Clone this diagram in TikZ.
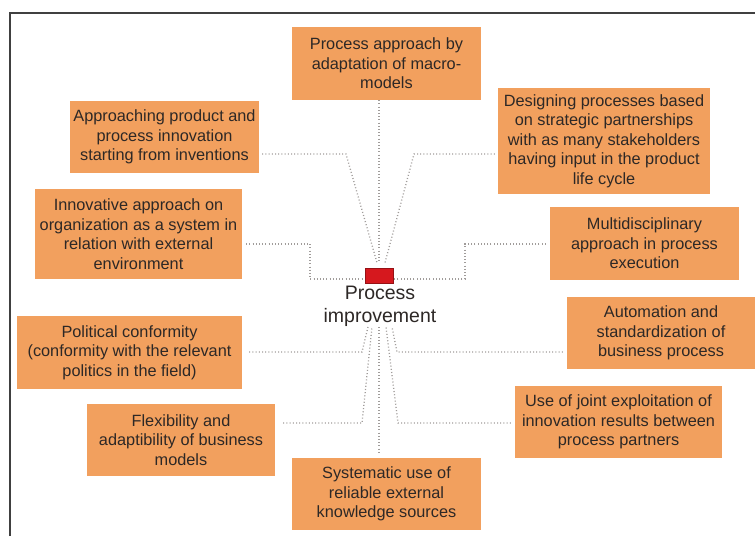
\documentclass[tikz,border=0pt]{standalone}
\usepackage{fontspec}
\setmainfont{Liberation Sans}
\definecolor{boxfill}{RGB}{242,160,94}
\definecolor{txt}{RGB}{45,40,38}
\definecolor{dotc}{RGB}{160,156,154}
\definecolor{hubred}{RGB}{214,24,30}
\begin{document}
\begin{tikzpicture}[x=1pt,y=-1pt,
  obox/.style={fill=boxfill,draw=none,inner sep=0pt,align=center,text=txt,
    font=\fontsize{16.3}{19.5}\selectfont},
  conn/.style={draw=dotc,line width=1.3pt,dash pattern=on 1pt off 2.2pt},
  frame/.style={draw=black!75,line width=1.3pt}]
\useasboundingbox (0,0) rectangle (755,536);
\fill[white] (0,0) rectangle (755,536);
\draw[frame] (10,536) -- (10,13) -- (760,13);

% boxes
\node[obox,minimum width=189pt,minimum height=73pt] (b1) at (386.5,63.5)
  {Process approach by\\adaptation of macro-\\models};
\node[obox,minimum width=189pt,minimum height=72pt] (b2) at (164.5,137)
  {Approaching product and\\process innovation\\starting from inventions};
\node[obox,minimum width=212pt,minimum height=106pt] (b3) at (604,141)
  {Designing processes based\\on strategic partnerships\\with as many stakeholders\\having input in the product\\life cycle};
\node[obox,minimum width=207pt,minimum height=90pt] (b4) at (138.5,234)
  {Innovative approach on\\organization as a system in\\relation with external\\environment};
\node[obox,minimum width=189pt,minimum height=73pt] (b5) at (644.5,243.5)
  {Multidisciplinary\\approach in process\\execution};
\node[obox,minimum width=196pt,minimum height=72pt] (b6) at (665,333)
  {\hspace*{-8pt}Automation and\\\hspace*{-8pt}standardization of\\\hspace*{-8pt}business process};
\node[obox,minimum width=225pt,minimum height=73pt] (b7) at (129.5,352.5)
  {Political conformity\\(conformity with the relevant\\politics in the field)};
\node[obox,minimum width=188pt,minimum height=72pt] (b8) at (181,440)
  {Flexibility and\\adaptibility of business\\models};
\node[obox,minimum width=207pt,minimum height=72pt] (b9) at (618.5,422)
  {Use of joint exploitation of\\innovation results between\\process partners};
\node[obox,minimum width=189pt,minimum height=72pt] (b10) at (386.5,494)
  {Systematic use of\\reliable external\\knowledge sources};

% hub
\node[fill=hubred,draw=hubred!70!black,line width=0.6pt,inner sep=0pt,
  minimum width=28pt,minimum height=15pt] (hub) at (379,275.5) {};
\node[align=center,text=txt,inner sep=0pt,
  font=\fontsize{19.5}{23}\selectfont] (lab) at (380,306) {Process\\improvement};
\coordinate (bot) at (379,327);

% corner points
\coordinate (k2) at (346,154);
\coordinate (k3) at (414,154);
\coordinate (k4) at (310,244);
\coordinate (k5) at (465,244);
\coordinate (k6) at (397,352);
\coordinate (k7) at (362,352);
\coordinate (k8) at (362,423);
\coordinate (k9) at (398,423);

% connectors
\draw[conn] (b1.south -| hub) -- ([yshift=5pt]hub.north);
\draw[conn] ([xshift=3pt]b2.east |- k2) -- (k2) -- ([xshift=-2pt,yshift=5pt]hub.north);
\draw[conn] ([xshift=-3pt]b3.west |- k3) -- (k3) -- ([xshift=6pt,yshift=5pt]hub.north);
\draw[conn] ([xshift=4pt]b4.east |- k4) -- (k4) |- ([yshift=-3.5pt]hub.west);
\draw[conn] ([xshift=-4pt]b5.west |- k5) -- (k5) |- ([yshift=-3.5pt]hub.east);
\draw[conn] ([xshift=7pt]b7.east |- k7) -- (k7) -- ([xshift=-11pt]bot);
\draw[conn] ([xshift=-4pt]b6.west |- k6) -- (k6) -- ([xshift=13pt]bot);
\draw[conn] ([xshift=8pt]b8.east |- k8) -- (k8) -- ([xshift=-7pt]bot);
\draw[conn] ([xshift=-4pt]b9.west |- k9) -- (k9) -- ([xshift=7pt]bot);
\draw[conn] (bot) -- ([yshift=5pt]b10.north -| bot);
\end{tikzpicture}
\end{document}
